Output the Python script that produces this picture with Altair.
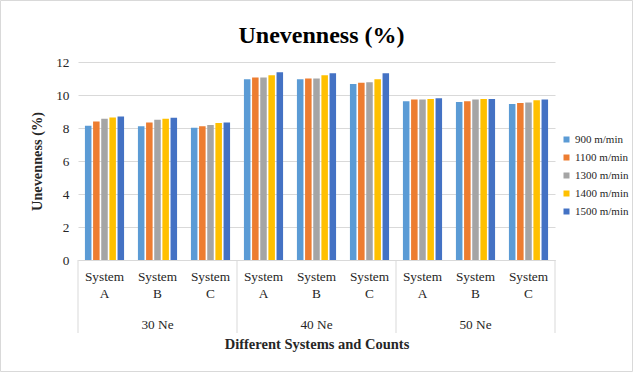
import altair as alt
import pandas as pd

groups = ["30 Ne", "40 Ne", "50 Ne"]
systems = ["System A", "System B", "System C"]
speeds = ["900 m/min", "1100 m/min", "1300 m/min", "1400 m/min", "1500 m/min"]
colors = ["#5B9BD5", "#ED7D31", "#A5A5A5", "#FFC000", "#4472C4"]
title_text = "Unevenness (%)"

v900 = [8.14, 8.10, 8.02, 10.96, 10.96, 10.66, 9.62, 9.58, 9.46]
v1100 = [8.40, 8.34, 8.10, 11.06, 11.00, 10.74, 9.72, 9.62, 9.52]
v1300 = [8.56, 8.50, 8.18, 11.06, 11.00, 10.78, 9.72, 9.72, 9.54]
v1400 = [8.64, 8.56, 8.30, 11.20, 11.20, 10.96, 9.76, 9.76, 9.68]
v1500 = [8.70, 8.62, 8.34, 11.38, 11.32, 11.32, 9.80, 9.76, 9.72]
series = [v900, v1100, v1300, v1400, v1500]

cats = [f"{g}|{s}" for g in groups for s in systems]
rows = []
for sp, vals in zip(speeds, series):
    for c, v in zip(cats, vals):
        rows.append({"cat": c, "speed": sp, "value": v})
df = pd.DataFrame(rows)

W, H = 477, 198
FONT = "Liberation Serif, Times New Roman, serif"
TXT = "#262626"

xenc = alt.X(
    "cat:N", sort=cats,
    scale=alt.Scale(paddingInner=0, paddingOuter=0),
    axis=alt.Axis(
        title="Different Systems and Counts",
        labelExpr="split(split(datum.value, '|')[1], ' ')",
        labelAngle=0, labelFont=FONT, labelFontSize=13.3, labelColor=TXT,
        labelLineHeight=17, labelPadding=9, ticks=False,
        domainColor="#d9d9d9",
        titleFont=FONT, titleFontSize=14.5, titleFontWeight="bold", titleColor=TXT,
        titleY=88, titleBaseline="alphabetic",
    ),
)

bars = alt.Chart(df).mark_bar().encode(
    x=xenc,
    xOffset=alt.XOffset("speed:N", sort=speeds,
                        scale=alt.Scale(paddingInner=0.2, paddingOuter=0.85)),
    y=alt.Y("value:Q", scale=alt.Scale(domain=[0, 12]),
            axis=alt.Axis(values=[0, 2, 4, 6, 8, 10, 12], title="Unevenness (%)",
                          domain=False, ticks=False, gridColor="#d9d9d9",
                          labelFont=FONT, labelFontSize=13.3, labelColor=TXT,
                          labelPadding=9, titleFont=FONT, titleFontSize=14.3,
                          titleFontWeight="bold", titleColor=TXT, titlePadding=11)),
    color=alt.Color("speed:N", sort=speeds,
                    scale=alt.Scale(domain=speeds, range=colors),
                    legend=alt.Legend(title=None, orient="none", legendX=483, legendY=72,
                                      symbolType="square", symbolSize=36,
                                      symbolStrokeWidth=0,
                                      labelFont=FONT, labelFontSize=11, labelColor=TXT,
                                      rowPadding=6, labelOffset=3, padding=0)),
)

gdf = pd.DataFrame({"cat": [f"{g}|System B" for g in groups], "label": groups})
glabels = alt.Chart(gdf).mark_text(font=FONT, fontSize=13.3, color=TXT, baseline="middle").encode(
    x=alt.X("cat:N", sort=cats),
    y=alt.value(H + 65),
    text="label:N",
)

sep_left = pd.DataFrame({"cat": [f"{g}|System A" for g in groups]})
sep_right = pd.DataFrame({"cat": [f"{groups[-1]}|System C"]})
rule_l = alt.Chart(sep_left).mark_rule(color="#d9d9d9").encode(
    x=alt.X("cat:N", sort=cats, bandPosition=0),
    y=alt.value(H), y2=alt.value(H + 73),
)
rule_r = alt.Chart(sep_right).mark_rule(color="#d9d9d9").encode(
    x=alt.X("cat:N", sort=cats, bandPosition=1),
    y=alt.value(H), y2=alt.value(H + 73),
)

title = alt.Chart(pd.DataFrame({"t": [title_text]})).mark_text(
    font=FONT, fontSize=24, fontWeight="bold", color="#000000",
    baseline="alphabetic", align="center"
).encode(x=alt.value(W / 2 + 5), y=alt.value(-19), text="t:N")

border = alt.Chart(pd.DataFrame({"a": [0]})).mark_rect(
    fill=None, stroke="#d9d9d9", strokeWidth=1
).encode(
    x=alt.value(-77.5), x2=alt.value(W + 77.5),
    y=alt.value(-61.5), y2=alt.value(H + 111.5),
)

chart = alt.layer(bars, rule_l, rule_r, glabels, title, border).properties(
    width=W, height=H,
    autosize=alt.AutoSizeParams(type="none"),
    padding={"left": 78, "top": 62, "right": 78, "bottom": 112},
    background="white",
).configure_view(stroke=None)

chart.save("out.html", embed_options={"renderer": "svg", "actions": False})
